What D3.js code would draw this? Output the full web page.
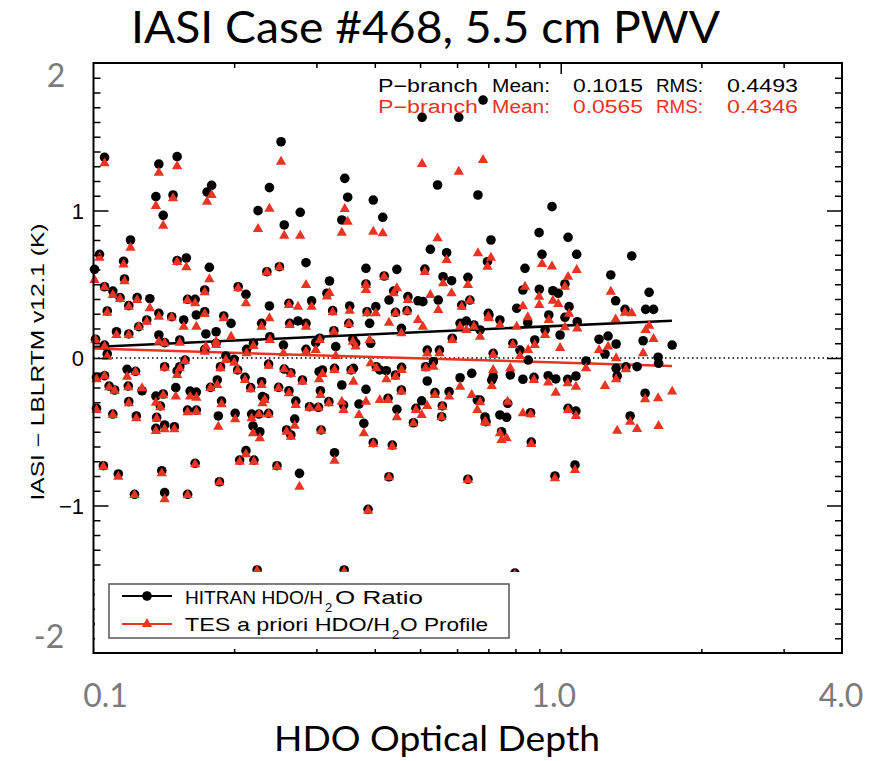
<!DOCTYPE html>
<html>
<head>
<meta charset="utf-8">
<script src="https://cdnjs.cloudflare.com/ajax/libs/d3/7.8.5/d3.min.js"></script>
<style>
  body { margin: 0; background: #fff; }
</style>
</head>
<body>
<div id="chart"></div>
<script>
// HDO optical depth of each channel, and the IASI - LBLRTM residual (K) for both runs
var depth = [
  0.1056,0.138,0.151,0.136,0.141,0.148,0.175,0.179,0.252,0.238,0.225,0.256,0.277,0.285,0.345,0.35,0.34,0.397,0.416,0.505,
  0.605,0.682,0.545,0.665,0.526,0.57,0.512,0.103,0.1005,0.12,0.116,0.1165,0.158,0.151,0.177,0.235,0.25,0.32,0.383,0.419,
  0.446,0.633,0.697,0.709,0.1056,0.11,0.114,0.124,0.119,0.107,0.132,0.13,0.125,0.119,0.112,0.101,0.138,0.138,0.142,0.147,
  0.153,0.156,0.159,0.165,0.166,0.173,0.173,0.174,0.183,0.19,0.197,0.204,0.212,0.22,0.229,0.238,0.2385,0.255,0.262,0.263,
  0.274,0.285,0.293,0.305,0.316,0.325,0.327,0.3535,0.352,0.359,0.383,0.385,0.39,0.402,0.429,0.439,0.443,0.456,0.471,0.469,
  0.495,0.507,0.518,0.547,0.56,0.584,0.609,0.628,0.639,0.652,0.672,0.586,0.7,
  0.1056,0.107,0.1015,0.1056,0.108,0.111,0.1015,0.11,0.105,0.113,0.118,0.1187,0.119,0.123,0.1235,0.1224,0.127,0.136,0.139,0.1365,
  0.136,0.142,0.149,0.141,0.142,0.14,0.142,0.15,0.151,0.153,0.159,0.159,0.161,0.166,0.166,0.165,0.157,0.178,0.184,0.185,
  0.186,0.188,0.187,0.192,0.2,0.201,0.2035,0.211,0.212,0.2055,0.217,0.218,0.2195,0.227,0.2205,0.229,0.23,0.226,0.237,0.237,
  0.2325,0.247,0.249,0.262,0.259,0.2645,0.2696,0.271,0.2645,0.276,0.28,0.29,0.303,0.306,0.307,0.304,0.319,0.328,0.34,0.33,
  0.344,0.224,0.343,0.37,0.379,0.383,0.387,0.397,0.41,0.427,0.429,0.436,0.446,0.456,0.4565,0.443,0.4235,0.504,0.484,0.49,
  0.518,0.538,0.558,0.556,0.577,0.609,0.645,0.663,0.633,0.6885,0.514,0.534,0.55,0.614,0.403,0.392,0.364,0.356,0.36,0.328,
  0.309,0.299,0.285,0.256,0.2127,0.183,0.173,
  0.958,0.899,0.912,0.9,0.962,0.988,1.021,1.037,1.082,1.042,1.085,1.021,0.702,0.741,0.83,0.8386,0.85,0.943,0.805,1.419,
  1.28,1.311,1.546,1.52,1.58,1.373,1.263,1.208,1.314,1.501,1.732,1.616,1.62,1.457,1.408,1.516,1.314,1.321,1.379,1.244,
  1.133,1.078,1.035,1.037,1.078,0.976,1.073,0.972,0.94,0.8766,0.862,0.865,0.83,0.78,0.741,0.766,0.77,0.692,0.747,0.712,
  0.717,0.672,0.852,0.79,0.717,0.926,0.88,0.997,0.818,0.798
];
var hitran = [
  1.36,1.315,1.365,1.094,0.967,1.105,1.125,1.171,1.466,1.155,0.999,0.902,0.988,0.646,1.218,1.09,0.936,1.071,0.954,1.632,
  1.632,1.749,1.173,1.105,0.737,0.714,0.603,0.703,0.601,0.8,0.656,0.536,0.678,0.66,0.615,0.585,0.619,0.522,0.608,0.556,
  0.601,0.547,0.653,0.8,0.483,0.454,0.409,0.409,0.355,0.319,0.402,0.258,0.212,0.163,0.178,0.127,0.303,0.156,0.104,0.28,
  0.122,0.258,0.398,0.398,0.292,0.461,0.314,0.163,0.178,0.285,0.235,0.483,0.432,0.1,0.235,0.353,0.144,0.088,0.371,0.235,
  0.251,0.235,0.388,0.134,0.439,0.321,0.185,0.353,0.235,0.127,0.502,0.314,0.235,0.348,0.393,0.454,0.31,0.201,0.416,0.321,
  0.388,0.382,0.054,0.393,0.551,0.524,0.235,0.25,0.393,0.224,0.19,0.134,0.303,
  0.088,0.027,-0.131,-0.12,-0.19,-0.217,-0.341,-0.38,-0.73,-0.786,-0.077,-0.19,-0.296,-0.09,-0.393,-0.924,-0.222,-0.258,-0.325,-0.402,
  -0.477,-0.454,-0.466,-0.244,-0.059,-0.764,-0.913,-0.201,-0.088,-0.059,-0.924,-0.353,-0.224,-0.231,-0.353,-0.714,-0.014,-0.199,-0.149,-0.393,
  -0.839,-0.292,-0.059,0.014,-0.009,-0.375,-0.081,-0.131,-0.628,-0.692,-0.201,-0.38,-0.461,-0.5,-0.692,-0.161,-0.262,-0.38,-0.041,-0.375,
  -0.269,-0.73,-0.199,-0.222,-0.488,-0.522,-0.414,-0.292,-0.1,-0.782,-0.149,-0.33,-0.334,-0.222,-0.488,-0.093,-0.296,-0.642,-0.183,0.077,
  -1.437,-1.437,-0.319,-0.312,-0.443,-0.212,-1.026,-0.574,-0.081,-0.273,-0.805,-0.59,-0.348,-0.217,-0.063,-0.115,-0.086,-0.29,-0.439,-0.341,
  -0.156,-0.235,-0.325,-0.398,-0.228,-0.134,-0.104,-0.285,-0.822,-0.4,-0.059,-0.025,0.054,0.359,-0.059,0.1,0.1,-0.081,-0.07,-0.07,
  -0.081,0.104,0.059,-0.075,0.059,0.1,0.059,
  1.026,0.85,0.703,0.466,0.456,0.439,0.502,0.818,0.703,0.348,0.246,0.276,0.292,0.258,0.461,0.608,0.239,0.292,0.337,0.692,
  0.563,0.388,0.445,0.33,0.33,0.33,0.149,0.127,0.095,0.117,0.088,0.005,-0.036,-0.059,-0.393,-0.239,-0.07,-0.122,-0.06,0.027,
  -0.02,-0.122,-0.144,-0.341,-0.36,-0.142,-0.725,-0.8,-0.12,-0.131,-0.371,-0.57,-0.144,-0.115,-0.386,-0.402,-0.307,-0.432,-0.5,-0.15,
  -0.127,-0.285,-0.014,0.1,0.032,0.19,0.122,0.156,0.054,-1.458
];
var tes = [
  1.32,1.256,1.30,1.031,0.897,1.083,1.06,1.105,1.331,1.012,0.875,0.829,0.829,0.495,1.01,0.924,0.849,0.856,0.845,1.315,
  1.263,1.342,0.812,0.71,0.427,0.664,0.583,0.68,0.529,0.748,0.633,0.52,0.615,0.651,0.534,0.58,0.615,0.441,0.495,0.55,
  0.473,0.495,0.619,0.68,0.48,0.427,0.4,0.393,0.348,0.307,0.337,0.246,0.21,0.156,0.156,0.122,0.28,0.11,0.1,0.275,
  0.104,0.212,0.39,0.371,0.212,0.445,0.298,0.077,0.11,0.269,0.144,0.473,0.371,0.081,0.212,0.269,0.122,0.032,0.359,0.224,
  0.348,0.212,0.348,0.122,0.416,0.31,0.178,0.321,0.23,0.11,0.461,0.303,0.122,0.303,0.239,0.439,0.303,0.167,0.393,0.315,
  0.258,0.212,0.03,0.325,0.506,0.439,0.212,0.19,0.388,0.212,0.144,0.122,0.28,
  0.077,0.009,-0.144,-0.122,-0.199,-0.222,-0.353,-0.386,-0.737,-0.805,-0.127,-0.199,-0.307,-0.095,-0.409,-0.929,-0.205,-0.303,-0.334,-0.412,
  -0.495,-0.483,-0.483,-0.253,-0.066,-0.782,-0.958,-0.262,-0.115,-0.07,-0.929,-0.368,-0.262,-0.269,-0.364,-0.721,-0.02,-0.203,-0.183,-0.466,
  -0.843,-0.314,-0.07,-0.014,-0.032,-0.416,-0.085,-0.149,-0.653,-0.703,-0.212,-0.409,-0.511,-0.544,-0.703,-0.183,-0.307,-0.382,-0.052,-0.382,
  -0.285,-0.737,-0.205,-0.239,-0.5,-0.534,-0.459,-0.319,-0.108,-0.873,-0.161,-0.337,-0.337,-0.251,-0.493,-0.144,-0.307,-0.696,-0.296,0.014,
  -1.449,-1.442,-0.353,-0.386,-0.511,-0.296,-1.035,-0.583,-0.285,-0.285,-0.809,-0.601,-0.402,-0.228,-0.081,-0.127,-0.144,-0.386,-0.443,-0.353,
  -0.325,-0.251,-0.33,-0.402,-0.262,-0.195,-0.251,-0.353,-0.827,-0.432,-0.07,-0.059,0.032,0.348,-0.07,-0.036,0.077,-0.086,-0.161,-0.081,
  -0.108,0.054,0.043,-0.077,0.032,0.088,0.043,
  0.62,0.415,0.637,0.359,0.388,0.366,0.483,0.55,0.597,0.30,0.20,0.208,0.27,0.224,0.35,0.483,0.276,0.258,0.212,0.303,
  0.449,0.262,0.219,0.19,0.129,0.307,0.077,0.054,-0.002,0.032,-0.228,-0.273,-0.461,-0.481,-0.432,-0.28,-0.144,-0.493,-0.077,-0.19,
  -0.07,-0.195,-0.172,-0.353,-0.393,-0.235,-0.759,-0.816,-0.167,-0.149,-0.382,-0.583,-0.375,-0.07,-0.511,-0.544,-0.296,-0.439,-0.556,-0.19,
  -0.081,-0.3,0.054,0.088,0.02,0.156,0.088,0.068,0.014,-1.47
];

// linear fits (vs log depth), end points
var fitDepth = [0.1, 1.73];
var fitHitran = [0.075, 0.253];
var fitTes = [0.064, -0.054];

var seriesNames = ["HITRAN HDO/H", "TES a priori HDO/H"];
var seriesTails = ["O Ratio", "O Profile"];
var statMeans = ["0.1015", "0.0565"];
var statRms = ["0.4493", "0.4346"];

var yIdlLabels = [1, 0, -1];
var yIdlText = ["1", "0", "\u22121"];
var yOverlay = [2, -2];
var yOverlayText = ["2", "-2"];
var xOverlay = [0.1, 1, 4];
var xOverlayText = ["0.1", "1.0", "4.0"];

var red = "#e93323";
var gray = "#7b7b7b";

var svg = d3.select("#chart")
  .append("svg")
    .attr("width", 879)
    .attr("height", 761);

var x = d3.scaleLog().domain([0.1, 4]).range([93.5, 842]);
var y = d3.scaleLinear().domain([-2, 2]).range([653, 63]);

var data = depth.map(function(d, i) { return {x: d, b: hitran[i], r: tes[i]}; });

// zero line
svg.append("line")
  .attr("x1", x(0.1)).attr("x2", x(4))
  .attr("y1", y(0)).attr("y2", y(0))
  .attr("stroke", "#000").attr("stroke-width", 1.5)
  .attr("stroke-dasharray", "1.5,3");

// fits
var line = d3.line()
  .x(function(d) { return x(d[0]); })
  .y(function(d) { return y(d[1]); });

svg.append("path")
  .datum(fitDepth.map(function(d, i) { return [d, fitHitran[i]]; }))
  .attr("fill", "none").attr("stroke", "#000").attr("stroke-width", 2.5)
  .attr("d", line);

svg.append("path")
  .datum(fitDepth.map(function(d, i) { return [d, fitTes[i]]; }))
  .attr("fill", "none").attr("stroke", red).attr("stroke-width", 2.5)
  .attr("d", line);

// points
svg.append("g").selectAll("circle")
  .data(data).enter().append("circle")
    .attr("cx", function(d) { return x(d.x); })
    .attr("cy", function(d) { return y(d.b); })
    .attr("r", 4.8)
    .attr("fill", "#000");

var tri = d3.symbol().type(d3.symbolTriangle).size(46);
svg.append("g").selectAll("path")
  .data(data).enter().append("path")
    .attr("d", tri)
    .attr("transform", function(d) { return "translate(" + x(d.x) + "," + y(d.r) + ")"; })
    .attr("fill", red);

// frame ticks, IDL style (inward)
var minorY = d3.range(-19, 20).map(function(d) { return d / 10; }).filter(function(d) { return Math.abs(d % 1) > 0.01; });
var majorY = [-1, 0, 1];
var minorX = [0.2, 0.3, 0.4, 0.5, 0.6, 0.7, 0.8, 0.9, 2, 3];

function ticks(axis, vals, size) {
  var g = svg.append("g").call(axis.tickValues(vals).tickSize(size).tickFormat(""));
  g.select(".domain").remove();
  g.selectAll("line").attr("stroke", "#000").attr("stroke-width", 1.5);
  return g;
}
ticks(d3.axisLeft(y), minorY, -7).attr("transform", "translate(93.5,0)");
ticks(d3.axisLeft(y), majorY, -15).attr("transform", "translate(93.5,0)");
ticks(d3.axisRight(y), minorY, -7).attr("transform", "translate(842,0)");
ticks(d3.axisRight(y), majorY, -15).attr("transform", "translate(842,0)");
ticks(d3.axisTop(x), minorX, -5).attr("transform", "translate(0,63)");
ticks(d3.axisTop(x), [1], -11).attr("transform", "translate(0,63)");
ticks(d3.axisBottom(x), minorX.concat([1]), -4).attr("transform", "translate(0,653)");

// white panel behind the legend
svg.append("rect")
  .attr("x", 95).attr("y", 572)
  .attr("width", 425).attr("height", 75)
  .attr("fill", "#fff");

// frame
svg.append("rect")
  .attr("x", 93.5).attr("y", 63)
  .attr("width", 842 - 93.5).attr("height", 653 - 63)
  .attr("fill", "none").attr("stroke", "#000").attr("stroke-width", 2);

// legend
svg.append("rect")
  .attr("x", 109).attr("y", 584).attr("width", 400).attr("height", 54)
  .attr("fill", "none").attr("stroke", "#555").attr("stroke-width", 1.5);

var legY = [596, 624];
var legBase = [604, 631];
var legHead = [[185, 138, 325], [185, 205, 392]];
var legTail = [[335, 88], [400, 88]];
var legColor = ["#000", red];

legY.forEach(function(ly, i) {
  svg.append("line")
    .attr("x1", 122).attr("x2", 172).attr("y1", ly).attr("y2", ly)
    .attr("stroke", legColor[i]).attr("stroke-width", 2);
  if (i === 0) {
    svg.append("circle").attr("cx", 147).attr("cy", ly).attr("r", 4.8).attr("fill", "#000");
  } else {
    svg.append("path").attr("d", tri).attr("transform", "translate(147," + ly + ")").attr("fill", red);
  }
  svg.append("text")
    .attr("x", legHead[i][0]).attr("y", legBase[i])
    .attr("textLength", legHead[i][1]).attr("lengthAdjust", "spacingAndGlyphs")
    .style("font", "19px 'Liberation Sans', sans-serif")
    .text(seriesNames[i]);
  svg.append("text")
    .attr("x", legHead[i][2]).attr("y", legBase[i] + 8)
    .style("font", "13px 'Liberation Sans', sans-serif")
    .text("2");
  svg.append("text")
    .attr("x", legTail[i][0]).attr("y", legBase[i])
    .attr("textLength", legTail[i][1]).attr("lengthAdjust", "spacingAndGlyphs")
    .style("font", "19px 'Liberation Sans', sans-serif")
    .text(seriesTails[i]);
});

// statistics
var statBase = [91.5, 112.5];
var statColor = ["#000", red];
statBase.forEach(function(b, i) {
  var parts = [
    ["P\u2212branch", 378, 100],
    ["Mean:", 492, 58],
    [statMeans[i], 573, 70],
    ["RMS:", 656, 47],
    [statRms[i], 727, 71]
  ];
  parts.forEach(function(p) {
    svg.append("text")
      .attr("x", p[1]).attr("y", b)
      .attr("textLength", p[2]).attr("lengthAdjust", "spacingAndGlyphs")
      .attr("fill", statColor[i])
      .style("font", "18px 'Liberation Sans', sans-serif")
      .text(p[0]);
  });
});

// IDL y labels
svg.append("g").selectAll("text")
  .data(yIdlLabels).enter().append("text")
    .attr("x", 84)
    .attr("y", function(d) { return y(d) + 8; })
    .attr("text-anchor", "end")
    .style("font", "22px 'Liberation Sans', sans-serif")
    .text(function(d, i) { return yIdlText[i]; });

svg.append("text")
  .attr("transform", "translate(44,362) rotate(-90)")
  .attr("text-anchor", "middle")
  .attr("textLength", 277).attr("lengthAdjust", "spacingAndGlyphs")
  .style("font", "18px 'Liberation Sans', sans-serif")
  .text("IASI \u2212 LBLRTM v12.1 (K)");

// grey overlay labels
svg.append("g").selectAll("text")
  .data(yOverlay).enter().append("text")
    .attr("x", function(d, i) { return i === 0 ? 56 : 49; })
    .attr("y", function(d, i) { return i === 0 ? 87 : 648; })
    .attr("text-anchor", "middle")
    .attr("fill", gray)
    .style("font", "32px Lato, sans-serif")
    .text(function(d, i) { return yOverlayText[i]; });

svg.append("g").selectAll("text")
  .data(xOverlay).enter().append("text")
    .attr("x", function(d) { return x(d) + (d === 0.1 ? 12 : d === 4 ? -1 : -7); })
    .attr("y", 707)
    .attr("text-anchor", "middle")
    .attr("fill", gray)
    .style("font", "32px Lato, sans-serif")
    .text(function(d, i) { return xOverlayText[i]; });

svg.append("text")
  .attr("x", 274).attr("y", 751)
  .attr("textLength", 326).attr("lengthAdjust", "spacingAndGlyphs")
  .style("font", "35px Lato, sans-serif")
  .text("HDO Optical Depth");

svg.append("text")
  .attr("x", 131).attr("y", 43)
  .attr("textLength", 589).attr("lengthAdjust", "spacingAndGlyphs")
  .style("font", "44px Lato, sans-serif")
  .text("IASI Case #468, 5.5 cm PWV");
</script>
</body>
</html>
